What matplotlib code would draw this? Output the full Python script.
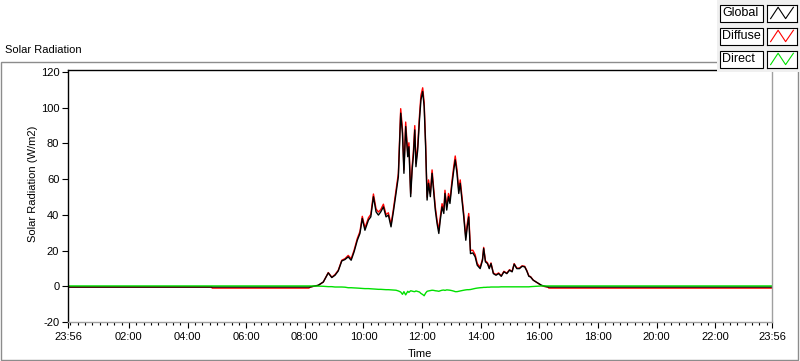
import matplotlib
matplotlib.use("Agg")
import matplotlib.pyplot as plt
from matplotlib.patches import Rectangle
from matplotlib.ticker import MultipleLocator
from matplotlib.lines import Line2D

plt.rcParams['font.family'] = ['Liberation Sans', 'DejaVu Sans']
plt.rcParams['font.size'] = 8

# time in hours since midnight (23:56 of the day before is -4 min)
t_night_am = [-0.07, 4.82, 4.84, 8.14, 8.18]
t_day = [
    8.46, 8.63, 8.80, 8.92, 9.03, 9.14, 9.26, 9.37, 9.48, 9.58,
    9.68, 9.79, 9.88, 9.96, 10.05, 10.17, 10.25, 10.34, 10.43, 10.51,
    10.59, 10.68, 10.77, 10.85, 10.94, 11.02, 11.11, 11.19, 11.27, 11.33,
    11.38, 11.44, 11.51, 11.55, 11.61, 11.66, 11.70, 11.75, 11.79, 11.85,
    11.91, 11.96, 12.02, 12.07, 12.12, 12.17, 12.22, 12.28, 12.34, 12.40,
    12.45, 12.51, 12.57, 12.62, 12.68, 12.74, 12.78, 12.84, 12.90, 12.95,
    13.01, 13.08, 13.13, 13.19, 13.25, 13.30, 13.36, 13.42, 13.49, 13.54,
    13.59, 13.65, 13.73, 13.81, 13.88, 13.98, 14.06, 14.10, 14.16, 14.23,
    14.29, 14.35, 14.43, 14.52, 14.61, 14.70, 14.79, 14.89, 14.98, 15.07,
    15.14, 15.23, 15.32, 15.41, 15.50, 15.57, 15.64, 15.70, 15.79, 15.89,
    15.98, 16.07, 16.19]
t_night_pm = [16.30, 16.32, 23.93]

global_am = [-0.4, -0.4, -0.4, -0.4, -0.4]
global_day = [
    0.6, 2.4, 7.5, 4.9, 6.2, 8.6, 14.2, 15.0, 16.5, 14.6,
    19.3, 25.8, 29.6, 38.0, 31.4, 37.1, 38.9, 50.2, 41.7, 39.9,
    41.7, 44.5, 38.9, 39.9, 33.3, 41.7, 52.0, 61.4, 97.0, 85.7,
    63.3, 89.5, 72.6, 78.2, 50.2, 65.1, 72.6, 87.6, 67.0, 76.4,
    93.2, 104.4, 109.1, 100.7, 78.2, 48.3, 57.7, 50.2, 63.3, 52.0,
    42.7, 35.2, 29.6, 37.1, 44.5, 40.8, 52.0, 42.7, 50.2, 46.4,
    55.8, 65.1, 70.8, 63.3, 52.0, 57.7, 48.3, 38.9, 25.8, 33.3,
    38.9, 18.3, 18.7, 16.5, 11.8, 9.9, 14.6, 21.2, 13.7, 12.7,
    9.9, 12.7, 7.1, 6.2, 7.1, 5.6, 8.1, 7.1, 9.0, 8.1,
    12.4, 9.9, 9.9, 11.2, 10.9, 8.6, 5.6, 5.2, 3.4, 2.4,
    1.5, 0.6, 0.0]
global_pm = [-0.4, -0.4, -0.4]

diffuse_am = [-0.4, -0.4, -1.0, -1.0, -0.4]
diffuse_day = [
    0.5, 2.4, 7.7, 5.1, 6.6, 9.0, 14.6, 15.5, 17.3, 15.4,
    20.2, 26.8, 30.7, 39.2, 32.7, 38.4, 40.3, 51.7, 43.3, 41.6,
    43.0, 46.0, 40.2, 41.2, 34.6, 43.2, 53.8, 63.2, 99.5, 88.0,
    65.3, 92.0, 74.6, 80.4, 52.0, 67.2, 74.8, 90.0, 69.0, 78.6,
    95.6, 107.0, 111.2, 103.0, 80.2, 50.0, 59.6, 52.0, 65.2, 53.8,
    44.5, 37.0, 31.4, 38.9, 46.3, 42.6, 53.8, 44.5, 52.0, 48.2,
    57.8, 67.3, 73.0, 65.4, 54.0, 59.6, 50.1, 40.7, 27.6, 35.0,
    40.8, 20.1, 20.2, 17.7, 12.8, 10.7, 15.3, 21.8, 14.3, 13.2,
    10.4, 13.1, 7.5, 6.6, 7.5, 5.9, 8.4, 7.4, 9.3, 8.4,
    12.7, 10.2, 10.2, 11.5, 11.2, 8.9, 5.9, 5.4, 3.5, 2.4,
    1.4, 0.4, -0.2]
diffuse_pm = [-0.4, -1.0, -1.0]

direct_am = [0.2, 0.2, 0.2, 0.2, 0.2]
direct_day = [
    0.1, 0.0, -0.2, -0.2, -0.4, -0.4, -0.4, -0.5, -0.8, -0.8,
    -0.9, -1.0, -1.1, -1.2, -1.3, -1.3, -1.4, -1.5, -1.6, -1.7,
    -1.7, -1.8, -1.9, -1.9, -2.0, -2.1, -2.2, -2.6, -3.2, -4.5,
    -3.0, -4.8, -2.8, -3.4, -2.5, -2.7, -2.9, -3.0, -2.6, -2.9,
    -3.2, -4.0, -4.6, -5.3, -3.8, -2.8, -2.6, -2.4, -2.2, -2.3,
    -2.5, -2.6, -2.8, -2.5, -2.2, -2.1, -2.3, -2.0, -2.1, -2.2,
    -2.4, -2.7, -3.0, -3.0, -2.8, -2.6, -2.4, -2.2, -2.0, -1.9,
    -1.9, -1.8, -1.5, -1.2, -1.0, -0.8, -0.7, -0.6, -0.6, -0.5,
    -0.5, -0.4, -0.4, -0.4, -0.4, -0.3, -0.3, -0.3, -0.3, -0.3,
    -0.3, -0.3, -0.3, -0.3, -0.3, -0.3, -0.3, -0.2, -0.1, 0.0,
    0.1, 0.2, 0.2]
direct_pm = [0.2, 0.2, 0.2]

time = t_night_am + t_day + t_night_pm
glob = global_am + global_day + global_pm
diffuse = diffuse_am + diffuse_day + diffuse_pm
direct = direct_am + direct_day + direct_pm

x_labels = ["23:56", "02:00", "04:00", "06:00", "08:00", "10:00", "12:00",
            "14:00", "16:00", "18:00", "20:00", "22:00", "23:56"]
y_ticks = [-20, 0, 20, 40, 60, 80, 100, 120]
series_names = ["Global", "Diffuse", "Direct"]
series_colors = ["black", "red", "#00e000"]


def to_hours(label):
    h, m = label.split(":")
    return int(h) + int(m) / 60.0


x_ticks = [to_hours(s) for s in x_labels]
x_ticks[0] -= 24  # first label is the previous day

W, H = 800, 361
fig = plt.figure(figsize=(W / 100, H / 100), dpi=100)
fig.patch.set_facecolor("white")

# outer panel frame
fig.add_artist(Rectangle((1 / W, 1 / H), 797 / W, (H - 63) / H,
                         transform=fig.transFigure, fill=False,
                         edgecolor="#8c8c8c", lw=1.0))

ax = fig.add_axes([68.3 / W, (H - 322) / H, (772 - 68.3) / W, (322 - 70.3) / H])
ax.plot(time, diffuse, color=series_colors[1], lw=1.0)
ax.plot(time, glob, color=series_colors[0], lw=1.0)
ax.plot(time, direct, color=series_colors[2], lw=1.0)

ax.set_xlim(x_ticks[0], x_ticks[-1])
ax.set_ylim(-20, 121)
ax.set_xticks(x_ticks)
ax.set_xticklabels(x_labels)
ax.xaxis.set_minor_locator(MultipleLocator(0.25))
ax.set_yticks(y_ticks)
ax.set_yticklabels([str(v) for v in y_ticks])
ax.tick_params(axis="both", which="major", length=4.5, width=0.8, pad=2,
               labelsize=8, colors="black")
ax.tick_params(axis="x", which="minor", length=2.5, width=0.8)
ax.tick_params(axis="x", which="major", pad=3)
for side in ["top", "left"]:
    ax.spines[side].set_color("black")
    ax.spines[side].set_linewidth(1.0)
for side in ["bottom", "right"]:
    ax.spines[side].set_color("#a0a0a0")
    ax.spines[side].set_linewidth(1.0)

fig.text(5 / W, (H - 50) / H, "Solar Radiation", ha="left", va="center", fontsize=8)
fig.text(33 / W, (H - 184) / H, "Solar Radiation (W/m2)", rotation=90,
         ha="center", va="center", fontsize=8)
fig.text(420 / W, (H - 354) / H, "Time", ha="center", va="center", fontsize=8)

# LabVIEW style plot legend, top right
fig.add_artist(Rectangle((717 / W, (H - 72) / H), 83 / W, 72 / H,
                         transform=fig.transFigure, facecolor="#f0f0f0",
                         edgecolor="none", zorder=5))
for i, (name, col) in enumerate(zip(series_names, series_colors)):
    top = 4.7 + i * 23
    fig.add_artist(Rectangle((720 / W, (H - top - 17) / H), 43 / W, 17 / H,
                             transform=fig.transFigure, facecolor="white",
                             edgecolor="black", lw=0.8, zorder=6))
    fig.text(722 / W, (H - top - 8.5) / H, name, ha="left", va="center",
             fontsize=9, zorder=7)
    sax = fig.add_axes([767 / W, (H - top - 17) / H, 30 / W, 17 / H], zorder=7)
    sax.set_xlim(0, 1)
    sax.set_ylim(0, 1)
    sax.add_line(Line2D([0.12, 0.37, 0.62, 0.88], [0.18, 0.85, 0.18, 0.85],
                        color=col, lw=0.8))
    sax.set_xticks([])
    sax.set_yticks([])
    for s in sax.spines.values():
        s.set_color("black")
        s.set_linewidth(0.8)

fig.savefig("out.png", dpi=100)
